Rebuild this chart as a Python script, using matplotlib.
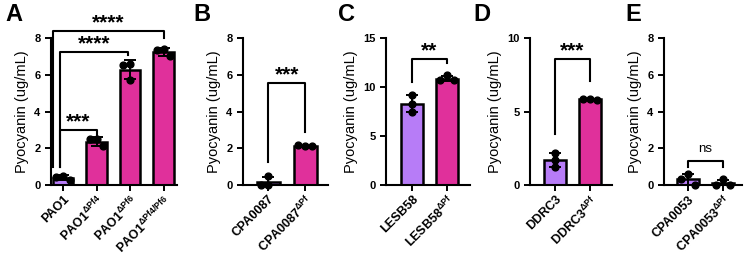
import numpy as np
import matplotlib
matplotlib.use("Agg")
from matplotlib import pyplot as plt

plt.rcParams['font.family'] = ['Liberation Sans', 'DejaVu Sans']
plt.rcParams['font.weight'] = 'bold'
plt.rcParams['mathtext.default'] = 'regular'

PURPLE = "#b77cf7"
MAGENTA = "#e0309b"

# panel A
a_labels = ["PAO1", r"PAO1$^{\Delta Pf4}$", r"PAO1$^{\Delta Pf6}$", r"PAO1$^{\Delta Pf4/Pf6}$"]
a_points = [[0.5, 0.45, 0.25], [2.5, 2.5, 2.1], [6.6, 6.55, 5.7], [7.4, 7.35, 7.0]]
# panel B
b_labels = ["CPA0087", r"CPA0087$^{\Delta Pf}$"]
b_points = [[0.48, 0.0, 0.0], [2.12, 2.15, 2.1]]
# panel C
c_labels = ["LESB58", r"LESB58$^{\Delta Pf}$"]
c_points = [[9.2, 8.3, 7.4], [11.2, 10.7, 10.7]]
# panel D
d_labels = ["DDRC3", r"DDRC3$^{\Delta Pf}$"]
d_points = [[2.2, 1.7, 1.2], [5.82, 5.85, 5.8]]
# panel E
e_labels = ["CPA0053", r"CPA0053$^{\Delta Pf}$"]
e_points = [[0.6, 0.3, 0.0], [0.3, 0.0, 0.0]]

panels = [
    ("A", a_labels, a_points, [PURPLE, MAGENTA, MAGENTA, MAGENTA], 8, [0, 2, 4, 6, 8]),
    ("B", b_labels, b_points, [PURPLE, MAGENTA], 8, [0, 2, 4, 6, 8]),
    ("C", c_labels, c_points, [PURPLE, MAGENTA], 15, [0, 5, 10, 15]),
    ("D", d_labels, d_points, [PURPLE, MAGENTA], 10, [0, 5, 10]),
    ("E", e_labels, e_points, [PURPLE, MAGENTA], 8, [0, 2, 4, 6, 8]),
]

# significance: (x1, x2, y, left leg bottom, right leg bottom, text)
sigs = {
    "A": [(-0.3, 3.0, 8.4, 1.0, 8.0, "****"),
          (-0.09, 1.95, 7.25, 1.0, 7.05, "****"),
          (-0.09, 1.0, 3.0, 1.0, 2.7, "***")],
    "B": [(0.0, 1.0, 5.55, 1.25, 2.9, "***")],
    "C": [(0.0, 1.0, 12.9, 10.5, 12.4, "**")],
    "D": [(0.0, 1.0, 8.57, 3.5, 7.1, "***")],
    "E": [(0.0, 1.0, 1.3, 1.0, 1.0, "ns")],
}

# axes boxes in pixels: left, right, plus xlim
boxes = {
    "A": (51, 177, -0.36, 3.4),
    "B": (243, 328, -0.68, 1.62),
    "C": (386, 470, -0.74, 1.66),
    "D": (530, 612, -0.71, 1.63),
    "E": (664, 742, -0.69, 1.54),
}
letter_x = {"A": 5, "B": 193, "C": 338, "D": 473, "E": 625}

W, H = 751, 257
fig = plt.figure(figsize=(W / 100, H / 100), dpi=100)


def swarm(vals, ymax, width=0.2):
    # spread points that would overlap
    offs = []
    thr = ymax * 0.05
    for i, v in enumerate(vals):
        near = [offs[j] for j in range(i) if abs(vals[j] - v) < thr]
        if not near:
            offs.append(0.0)
        else:
            for cand in [-width, width, 0.0, -2 * width, 2 * width]:
                if cand not in near:
                    offs.append(cand)
                    break
    return offs


for name, labels, points, colors, ymax, yticks in panels:
    l, r, x0, x1 = boxes[name]
    ax = fig.add_axes([l / W, (H - 185) / H, (r - l) / W, 147 / H])
    xs = np.arange(len(labels))
    means = [np.mean(p) for p in points]
    sds = [np.std(p, ddof=1) for p in points]
    ax.bar(xs, means, width=0.62, color=colors, edgecolor="black", linewidth=1.8, zorder=2)
    ax.errorbar(xs, means, yerr=sds, fmt="none", ecolor="black", elinewidth=1.4,
                capsize=4.5, capthick=1.4, zorder=3)
    for x, p in zip(xs, points):
        offs = swarm(p, ymax)
        ax.scatter(x + np.array(offs), p, s=24, color="black", zorder=4, clip_on=False)
    ax.set_xlim(x0, x1)
    ax.set_ylim(0, ymax)
    ax.set_yticks(yticks)
    ax.set_xticks(xs)
    ax.set_xticklabels(labels, rotation=45, ha="right", rotation_mode="anchor", fontsize=9)
    ax.tick_params(axis="both", width=1.4, length=4)
    ax.tick_params(axis="y", labelsize=8)
    ax.tick_params(axis="x", pad=2)
    for s in ["top", "right"]:
        ax.spines[s].set_visible(False)
    for s in ["left", "bottom"]:
        ax.spines[s].set_linewidth(1.5)
    ax.set_ylabel("Pyocyanin (ug/mL)", fontsize=10.5, labelpad=4)
    for x1s, x2s, y, lb, rb, txt in sigs[name]:
        ax.plot([x1s, x1s, x2s, x2s], [lb, y, y, rb], color="black", lw=1.5,
                clip_on=False, zorder=5)
        if txt == "ns":
            ax.text((x1s + x2s) / 2, y + ymax * 0.04, txt, ha="center", va="bottom",
                    fontsize=9.5, fontweight="normal")
        else:
            ax.text((x1s + x2s) / 2, y - ymax * 0.01, txt, ha="center", va="bottom",
                    fontsize=15, fontweight="bold")
    fig.text(letter_x[name] / W, 1 - 3 / H, name, fontsize=17, fontweight="bold",
             ha="left", va="top")

fig.savefig("out.png", dpi=100)
